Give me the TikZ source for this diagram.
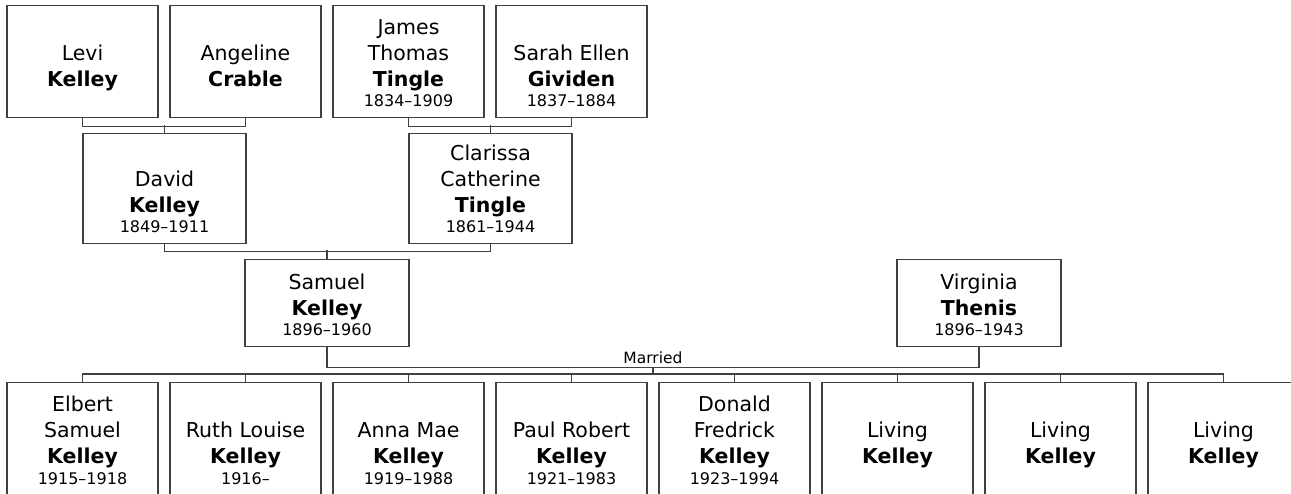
\documentclass[tikz,border=0pt]{standalone}
\usepackage{fontspec}
\setmainfont{DejaVu Sans}
\usetikzlibrary{calc}
\definecolor{linec}{RGB}{64,64,64}
\tikzset{
  pbox/.style={draw=linec, line width=1.4pt, fill=white, inner sep=0pt, anchor=north},
  nametext/.style={font=\fontsize{20.5}{26}\selectfont, inner sep=0pt, anchor=base},
  datetext/.style={font=\fontsize{16}{19}\selectfont, inner sep=0pt, anchor=base},
  conn/.style={draw=linec, line width=1.5pt},
  lbl/.style={font=\fontsize{15.5}{18}\selectfont, inner sep=0pt, anchor=base},
}
% id, cx, top, width, height, name lines, dates
\newcommand\personbox[7]{%
  \node[pbox, minimum width=#4pt, minimum height=#5pt] (#1) at (#2,#3) {};
  \node[nametext] (#1-name) at (#2,#3+#5-31) {\begin{tabular}[b]{@{}c@{}}#6\end{tabular}};
  \if\relax\detokenize{#7}\relax\else
    \node[datetext] (#1-date) at (#2,#3+#5-10.5) {#7};%
  \fi
}
\begin{document}
\begin{tikzpicture}[x=1pt,y=-1pt]
\useasboundingbox (0,0) rectangle (1291,493);
\clip (0,0) rectangle (1291,493);
\fill[white] (0,0) rectangle (1291,493);

% generation 1
\personbox{levi}{82.5}{5}{151}{112}{Levi\\\textbf{Kelley}}{}
\personbox{angeline}{245.5}{5}{151}{112}{Angeline\\\textbf{Crable}}{}
\personbox{james}{408.5}{5}{151}{112}{James\\Thomas\\\textbf{Tingle}}{1834–1909}
\personbox{sarah}{571.5}{5}{151}{112}{Sarah Ellen\\\textbf{Gividen}}{1837–1884}

% generation 2
\personbox{david}{164.5}{133}{163}{110}{David\\\textbf{Kelley}}{1849–1911}
\personbox{clarissa}{490.5}{133}{163}{110}{Clarissa\\Catherine\\\textbf{Tingle}}{1861–1944}

% generation 3
\personbox{samuel}{327}{259}{164}{87}{Samuel\\\textbf{Kelley}}{1896–1960}
\personbox{virginia}{979}{259}{164}{87}{Virginia\\\textbf{Thenis}}{1896–1943}

% children
\personbox{c1}{82.5}{382}{151}{112.5}{Elbert\\Samuel\\\textbf{Kelley}}{1915–1918}
\personbox{c2}{245.5}{382}{151}{112.5}{Ruth Louise\\\textbf{Kelley}}{1916–}
\personbox{c3}{408.5}{382}{151}{112.5}{Anna Mae\\\textbf{Kelley}}{1919–1988}
\personbox{c4}{571.5}{382}{151}{112.5}{Paul Robert\\\textbf{Kelley}}{1921–1983}
\personbox{c5}{734.5}{382}{151}{112.5}{Donald\\Fredrick\\\textbf{Kelley}}{1923–1994}
\personbox{c6}{897.5}{382}{151}{112.5}{Living\\\textbf{Kelley}}{}
\personbox{c7}{1060.5}{382}{151}{112.5}{Living\\\textbf{Kelley}}{}
\personbox{c8}{1223.5}{382}{151}{112.5}{Living\\\textbf{Kelley}}{}

% connectors: parents of David
\draw[conn] (levi.south) -- ++(0,8) -| (angeline.south);
\draw[conn] (david.north) -- ++(0,-8);
% parents of Clarissa
\draw[conn] (james.south) -- ++(0,8) -| (sarah.south);
\draw[conn] (clarissa.north) -- ++(0,-8);
% parents of Samuel
\draw[conn] (david.south) -- ++(0,7) -| (clarissa.south);
\draw[conn] (samuel.north) -- ++(0,-9);
% marriage
\draw[conn] (samuel.south) -- ++(0,20) -| (virginia.south);
\coordinate (mm) at ($(samuel.south)!0.5!(virginia.south)+(0,20)$);
\node[lbl] (married) at ($(mm)+(0,-3.5)$) {Married};
\draw[conn] (mm) -- ++(0,8);
% children bus
\draw[conn] (c1.north) -- ++(0,-8) coordinate (bus) -| (c8.north);
\foreach \c in {c2,c3,c4,c5,c6,c7}{
  \draw[conn] (\c.north) -- (\c.north |- bus);
}
\end{tikzpicture}
\end{document}
